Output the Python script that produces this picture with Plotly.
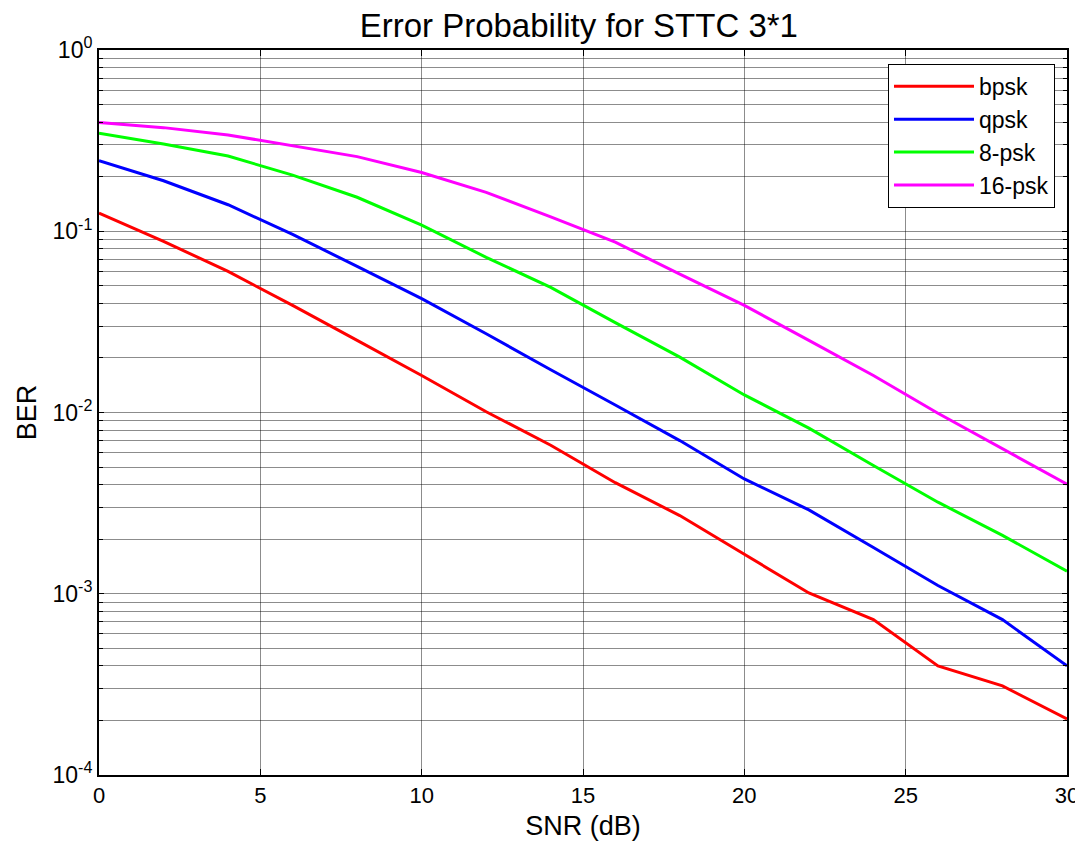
import plotly.graph_objects as go

snr = [0, 2, 4, 6, 8, 10, 12, 14, 16, 18, 20, 22, 24, 26, 28, 30]
ber_bpsk = [0.126, 0.088, 0.060, 0.039, 0.025, 0.016, 0.0101, 0.0066, 0.0041, 0.0027, 0.00165, 0.00101, 0.00072, 0.00040, 0.00031, 0.000204]
ber_qpsk = [0.245, 0.19, 0.140, 0.096, 0.064, 0.0425, 0.0272, 0.0172, 0.011, 0.0070, 0.0043, 0.0029, 0.0018, 0.00111, 0.00072, 0.00040]
ber_8psk = [0.347, 0.303, 0.26, 0.204, 0.154, 0.108, 0.0718, 0.049, 0.0313, 0.0202, 0.0125, 0.0082, 0.0051, 0.0032, 0.0021, 0.00133]
ber_16psk = [0.398, 0.373, 0.34, 0.296, 0.258, 0.211, 0.164, 0.120, 0.087, 0.058, 0.039, 0.025, 0.016, 0.0099, 0.0063, 0.00402]

series_names = ["bpsk", "qpsk", "8-psk", "16-psk"]
series_colors = ["#ff0000", "#0000ff", "#00ff00", "#ff00ff"]
series_data = [ber_bpsk, ber_qpsk, ber_8psk, ber_16psk]

x_ticks = [0, 5, 10, 15, 20, 25, 30]
decades = [-4, -3, -2, -1, 0]

FONT = "Liberation Sans, Arial, sans-serif"

fig = go.Figure()
for name, color, data in zip(series_names, series_colors, series_data):
    fig.add_trace(go.Scatter(x=snr, y=data, mode="lines", name=name,
                             line=dict(color=color, width=3)))

# major ticks at decades, minor ticks at 2..9 x 10^k
y_major = [10.0 ** d for d in decades]
y_major_text = [f"10<sup>{d}</sup>" for d in decades]
y_minor = [m * 10.0 ** d for d in decades[:-1] for m in range(2, 10)]

grid_col = "rgba(0,0,0,0.45)"

fig.update_layout(
    width=1075, height=842,
    paper_bgcolor="white", plot_bgcolor="white",
    margin=dict(l=91, r=16, t=42, b=75, autoexpand=False),
    font=dict(family=FONT, color="black", size=22),
    title=dict(text="Error Probability for STTC 3*1", x=0.531, xanchor="center",
               y=0.979, yanchor="middle", font=dict(size=33, family=FONT, color="black"),
               automargin=False),
    xaxis=dict(range=[0, 30], tickvals=x_ticks, ticktext=[str(v) for v in x_ticks],
               showgrid=True, gridcolor=grid_col, gridwidth=1,
               showline=True, linecolor="black", linewidth=2, mirror="ticks",
               ticks="inside", ticklen=6, tickcolor="black",
               zeroline=False, automargin=False,
               title=dict(text="SNR (dB)", font=dict(size=27, family=FONT), standoff=9),
               tickfont=dict(size=22, family=FONT)),
    yaxis=dict(type="log", range=[-4, 0], tickvals=y_major, ticktext=y_major_text,
               showgrid=True, gridcolor=grid_col, gridwidth=1,
               showline=True, linecolor="black", linewidth=2, mirror="ticks",
               ticks="inside", ticklen=5, tickcolor="black",
               minor=dict(tickvals=y_minor, showgrid=True, gridcolor=grid_col,
                          gridwidth=1, ticks="inside", ticklen=4, tickcolor="black"),
               zeroline=False, automargin=False,
               title=dict(text="BER", font=dict(size=27, family=FONT), standoff=8),
               tickfont=dict(size=23, family=FONT)),
    legend=dict(x=0.9876, y=0.981, xanchor="right", yanchor="top",
                bgcolor="white", bordercolor="black", borderwidth=1,
                font=dict(size=23, family=FONT), tracegroupgap=2,
                itemwidth=80),
    showlegend=True,
)

fig.write_html("out.html")
